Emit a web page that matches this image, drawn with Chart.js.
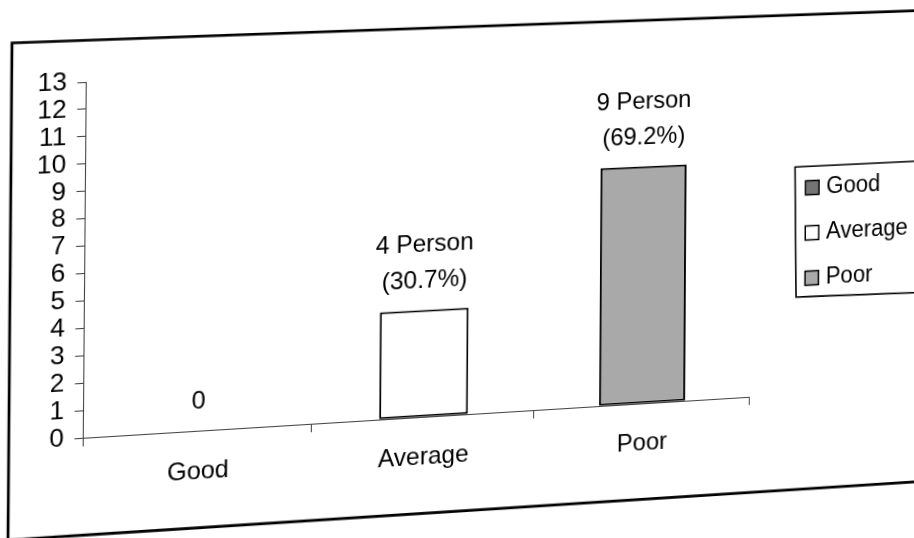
<!DOCTYPE html>
<html>
<head>
<meta charset="utf-8">
<script src="https://cdn.jsdelivr.net/npm/chart.js@4.4.1/dist/chart.umd.min.js"></script>
<style>
  html, body { margin: 0; padding: 0; background: #ffffff; overflow: hidden; width: 914px; height: 538px; }
  #wrap { position: absolute; left: 0; top: 0; width: 914px; height: 538px; overflow: hidden; }
  #c { position: absolute; left: 0; top: 0; transform-origin: 0 0; }
</style>
</head>
<body>
<div id="wrap"><canvas id="c" width="960" height="538"></canvas></div>
<script>
// ---- data ----
const categories = ['Good', 'Average', 'Poor'];
const persons = [0, 4, 9];
const dataLabels = [['0'], ['4 Person', '(30.7%)'], ['9 Person', '(69.2%)']];
const yMin = 0;
const yMax = 13;
const yStep = 1;

// ---- style ----
const FONT = "'Liberation Sans', Arial, sans-serif";
const barColors = ['#747474', '#ffffff', '#a9a9a9'];

// photo geometry (the scan is slightly skewed / in perspective)
const camDst = { tl: [86, 82], bl: [83, 438], br: [749, 397], tr: [751, 57] };
const frameRef = [[12, 43], [990, 8], [990, 477], [8, 540]];
const legendBoxRef = [[795, 167], [960, 159], [960, 291], [796, 297]];

function solve(A, b) {
  const n = b.length;
  const M = A.map((r, i) => r.concat([b[i]]));
  for (let c = 0; c < n; c++) {
    let p = c;
    for (let r = c + 1; r < n; r++) if (Math.abs(M[r][c]) > Math.abs(M[p][c])) p = r;
    [M[c], M[p]] = [M[p], M[c]];
    for (let r = 0; r < n; r++) {
      if (r === c) continue;
      const f = M[r][c] / M[c][c];
      for (let k = c; k <= n; k++) M[r][k] -= f * M[c][k];
    }
  }
  return M.map((r, i) => r[n] / r[i]);
}
function homography(src, dst) {
  const A = [], b = [];
  for (let i = 0; i < 4; i++) {
    const [x, y] = src[i], [u, v] = dst[i];
    A.push([x, y, 1, 0, 0, 0, -u * x, -u * y]); b.push(u);
    A.push([0, 0, 0, x, y, 1, -v * x, -v * y]); b.push(v);
  }
  return solve(A, b).concat([1]);
}
function invert3(m) {
  const [a, b, c, d, e, f, g, h, i] = m;
  const A = e * i - f * h, B = -(d * i - f * g), C = d * h - e * g;
  const det = a * A + b * B + c * C;
  return [A / det, -(b * i - c * h) / det, (b * f - c * e) / det,
          B / det, (a * i - c * g) / det, -(a * f - c * d) / det,
          C / det, -(a * h - b * g) / det, (a * e - b * d) / det];
}
function applyH(H, p) {
  const w = H[6] * p[0] + H[7] * p[1] + H[8];
  return [(H[0] * p[0] + H[1] * p[1] + H[2]) / w, (H[3] * p[0] + H[4] * p[1] + H[5]) / w];
}

const cameraPlugin = {
  id: 'camera',
  afterLayout(chart) {
    const xs = chart.scales.x, ys = chart.scales.y;
    const src = [
      [xs.left, ys.getPixelForValue(yMax)],
      [xs.left, ys.getPixelForValue(yMin)],
      [xs.right, ys.getPixelForValue(yMin)],
      [xs.right, ys.getPixelForValue(yMax)]
    ];
    const dst = [camDst.tl, camDst.bl, camDst.br, camDst.tr];
    const H = homography(src, dst);
    chart.$H = H;
    chart.$Hinv = invert3(H);
    chart.canvas.style.transform =
      `matrix3d(${H[0]},${H[3]},0,${H[6]},${H[1]},${H[4]},0,${H[7]},0,0,1,0,${H[2]},${H[5]},0,1)`;
  },
  beforeDraw(chart) {
    const ctx = chart.ctx;
    const poly = (pts, lw) => {
      ctx.save();
      ctx.beginPath();
      pts.forEach((p, i) => {
        const q = applyH(chart.$Hinv, p);
        if (i === 0) ctx.moveTo(q[0], q[1]); else ctx.lineTo(q[0], q[1]);
      });
      ctx.closePath();
      ctx.lineWidth = lw;
      ctx.strokeStyle = '#000';
      ctx.stroke();
      ctx.restore();
    };
    poly(frameRef, 2.6);
    poly(legendBoxRef, 1.6);
  }
};

const labelPlugin = {
  id: 'barLabels',
  afterDatasetsDraw(chart) {
    const ctx = chart.ctx;
    const meta = chart.getDatasetMeta(0);
    ctx.save();
    ctx.font = `24px ${FONT}`;
    ctx.fillStyle = '#000';
    ctx.textAlign = 'center';
    ctx.textBaseline = 'middle';
    meta.data.forEach((bar, i) => {
      const lines = dataLabels[i];
      const n = lines.length;
      lines.forEach((t, k) => {
        ctx.fillText(t, bar.x, bar.y - 28 - (n - 1 - k) * 35);
      });
    });
    ctx.restore();
  }
};

new Chart(document.getElementById('c'), {
  type: 'bar',
  data: {
    labels: categories,
    datasets: [{
      data: persons,
      backgroundColor: barColors,
      borderColor: '#000',
      borderWidth: 2,
      borderSkipped: false,
      barPercentage: 0.4,
      categoryPercentage: 1.0
    }]
  },
  options: {
    responsive: false,
    animation: false,
    devicePixelRatio: 1,
    layout: { padding: { left: 39, top: 82, right: 39, bottom: 48 } },
    plugins: {
      tooltip: { enabled: false },
      legend: {
        display: true,
        position: 'right',
        align: 'center',
        fullSize: false,
        onClick: null,
        title: { display: true, text: '', padding: 1, font: { size: 16, lineHeight: 1 } },
        labels: {
          usePointStyle: true,
          boxWidth: 6,
          boxHeight: 14,
          padding: 22,
          color: '#000',
          font: { family: FONT, size: 23 },
          generateLabels: () => categories.map((c, i) => ({
            text: c,
            fillStyle: barColors[i],
            strokeStyle: '#000',
            lineWidth: 1.5,
            pointStyle: 'rect',
            hidden: false,
            index: i,
            fontColor: '#000'
          }))
        }
      }
    },
    scales: {
      x: {
        offset: true,
        grid: { display: true, offset: true, drawOnChartArea: false, drawTicks: true, tickLength: 8, color: '#444', lineWidth: 1 },
        border: { display: true, color: '#444', width: 1 },
        ticks: { color: '#000', padding: 17, font: { family: FONT, size: 24 }, maxRotation: 0 }
      },
      y: {
        min: yMin,
        max: yMax,
        grid: { display: true, drawOnChartArea: false, drawTicks: true, tickLength: 8, color: '#444', lineWidth: 1 },
        border: { display: true, color: '#444', width: 1 },
        ticks: { stepSize: yStep, autoSkip: false, color: '#000', padding: 10, font: { family: FONT, size: 24.5, lineHeight: 1 } }
      },
      y2: {
        type: 'linear',
        position: 'right',
        display: true,
        grid: { display: false },
        border: { display: false },
        ticks: { display: false },
        afterFit(s) { s.width = 39; }
      }
    }
  },
  plugins: [cameraPlugin, labelPlugin]
});
</script>
</body>
</html>
